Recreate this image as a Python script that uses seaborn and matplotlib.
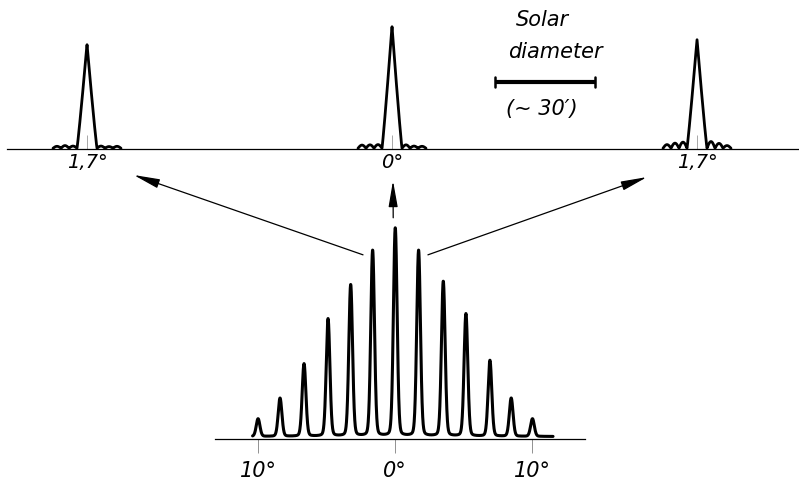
import numpy as np
import pandas as pd
import matplotlib
matplotlib.use("Agg")
import matplotlib.pyplot as plt
import seaborn as sns

# ---------------- data ----------------
# Lower trace: grating-lobe pattern (angle in degrees, relative peak level)
lobe_pos = [-10.0, -8.4, -6.65, -4.9, -3.25, -1.65, 0.0, 1.7, 3.5, 5.15, 6.9, 8.45, 10.0]
lobe_height = [0.085, 0.184, 0.349, 0.565, 0.728, 0.893, 1.0, 0.893, 0.744, 0.589, 0.365, 0.184, 0.085]
bottom_ticks = [-10, 0, 10]
bottom_labels = ["10°", "0°", "10°"]

# Upper traces: three single beams (levels relative to the central beam)
beam_labels = ["1,7°", "0°", "1,7°"]
beam_peak = [0.852, 1.0, 0.893]
# side-lobe levels, innermost first
beam_lobes_left = [[0.018, 0.022, 0.016], [0.03, 0.028, 0.026], [0.05, 0.042, 0.03]]
beam_lobes_right = [[0.018, 0.014, 0.016], [0.028, 0.018, 0.016], [0.055, 0.04, 0.022]]

solar_diameter_arcmin = 30

# ---------------- layout / style ----------------
W, H, DPI = 799, 480, 100
LW = 2.0
window_centre = [-91.5, 0.0, 91.5]      # arcmin positions of the three beam windows
main_half = 3.0                           # arcmin, half base width of a main beam
lobe_w = 2.4                              # arcmin, width of one side lobe

sns.set_theme(style="white")
plt.rcParams["font.family"] = ["DejaVu Sans"]
plt.rcParams["font.style"] = "italic"
plt.rcParams["text.color"] = "black"
plt.rcParams["xtick.color"] = "black"
plt.rcParams["xtick.labelcolor"] = "black"

fig = plt.figure(figsize=(W / DPI, H / DPI), dpi=DPI)
fig.patch.set_facecolor("white")


def px_axes(x0, x1, y_base, y_top):
    return fig.add_axes([x0 / W, (H - y_base) / H, (x1 - x0) / W, (y_base - y_top) / H])


ax_top = px_axes(7, 799, 149, 20)
ax_bot = px_axes(215, 585, 439, 223)

for ax in (ax_top, ax_bot):
    ax.set_facecolor("none")
    for s in ("top", "left", "right"):
        ax.spines[s].set_visible(False)
    ax.spines["bottom"].set_color("black")
    ax.spines["bottom"].set_linewidth(0.9)
    ax.set_yticks([])

# ---------------- lower trace ----------------
x = np.linspace(-10.4, 11.5, 3000)
floor = 0.012
y = np.full_like(x, floor)
for p, h in zip(lobe_pos, lobe_height):
    d = x - p
    y += h * (0.88 * np.exp(-(d / 0.19) ** 2) + 0.12 / (1 + (d / 0.17) ** 2))
df_bot = pd.DataFrame({"angle": x, "level": y})
sns.lineplot(data=df_bot, x="angle", y="level", ax=ax_bot, color="black",
             linewidth=LW + 0.2, estimator=None, sort=False)
ax_bot.set_xlim(-13.14, 13.83)
ax_bot.set_ylim(0, 1.038)
ax_bot.set_xticks(bottom_ticks)
ax_bot.set_xticklabels(bottom_labels, fontsize=15, style="italic", color="black")
ax_bot.tick_params(axis="x", direction="out", length=10, width=0.6, color="0.5", pad=6,
                   bottom=True)
ax_bot.set_xlabel("")
ax_bot.set_ylabel("")

# ---------------- upper traces ----------------
for c, h, lobes_l, lobes_r in zip(window_centre, beam_peak, beam_lobes_left, beam_lobes_right):
    reach = main_half + lobe_w * len(lobes_l)
    d = np.linspace(-reach, reach, 900)
    ad = np.abs(d)
    yy = np.zeros_like(d)
    main = ad < main_half
    yy[main] = h * (1 - ad[main] / main_half) ** 1.1
    for side, lobes in ((d < 0, lobes_l), (d >= 0, lobes_r)):
        sel = side & ~main
        u = (ad[sel] - main_half) / lobe_w
        k = np.clip(u.astype(int), 0, len(lobes) - 1)
        yy[sel] = np.array(lobes)[k] * np.abs(np.sin(np.pi * (u - k)))
    df_beam = pd.DataFrame({"offset": c + d, "level": yy + 0.006})
    sns.lineplot(data=df_beam, x="offset", y="level", ax=ax_top, color="black",
                 linewidth=LW, estimator=None, sort=False)

ax_top.set_xlim(-115.5, 122.1)
ax_top.set_ylim(0, 1.057)
ax_top.set_xticks(window_centre)
ax_top.set_xticklabels(beam_labels, fontsize=14, style="italic", color="black")
ax_top.tick_params(axis="x", direction="in", length=10, width=0.6, color="0.6", pad=3,
                   bottom=True)
ax_top.set_xlabel("")
ax_top.set_ylabel("")

# solar diameter scale bar
bar_x0 = 31.0
bar_y = 0.549
ax_top.plot([bar_x0, bar_x0 + solar_diameter_arcmin], [bar_y, bar_y], color="black",
            lw=3.0, solid_capstyle="butt")
for xe in (bar_x0, bar_x0 + solar_diameter_arcmin):
    ax_top.plot([xe, xe], [bar_y - 0.04, bar_y + 0.04], color="black", lw=1.8)
ax_top.text(45, 1.057, "Solar", ha="center", va="center", fontsize=15, style="italic",
            color="black")
ax_top.text(49, 0.795, "diameter", ha="center", va="center", fontsize=15, style="italic",
            color="black")
ax_top.text(45, 0.33, "(~ 30′)", ha="center", va="center", fontsize=15, style="italic",
            color="black")

# ---------------- arrows from the lower pattern to the enlarged beams ----------------
arrow_kw = dict(arrowstyle="-|>,head_length=1.6,head_width=0.28", color="black",
                lw=0.9, shrinkA=0, shrinkB=0, mutation_scale=10)
arrows = [
    ((window_centre[0] + 14.0, -0.213), (lobe_pos[5] - 0.7, lobe_height[5] - 0.008)),
    ((window_centre[1] + 0.3, -0.26), (lobe_pos[6] - 0.15, lobe_height[6] + 0.063)),
    ((window_centre[2] - 15.0, -0.23), (lobe_pos[7] + 0.68, lobe_height[7] - 0.008)),
]
for tip, tail in arrows:
    ax_top.annotate("", xy=tip, xycoords=ax_top.transData,
                    xytext=tail, textcoords=ax_bot.transData,
                    arrowprops=arrow_kw, annotation_clip=False)

fig.savefig("out.png", dpi=DPI, facecolor="white")
